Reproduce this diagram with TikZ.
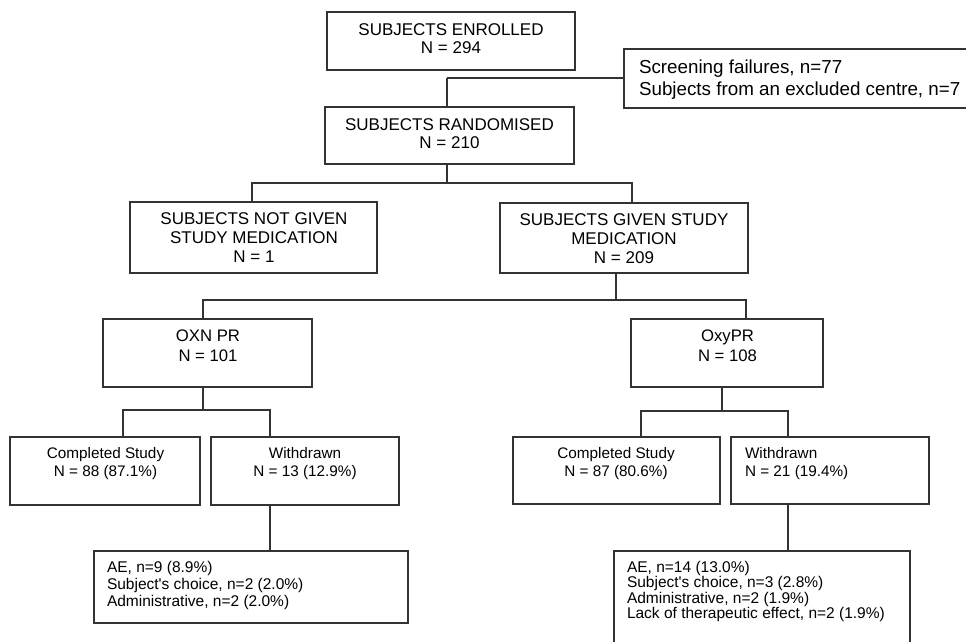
\documentclass[tikz,border=0pt]{standalone}
\usepackage{fontspec}
\setmainfont{Liberation Sans}
\begin{document}
\begin{tikzpicture}[x=1pt,y=-1pt,
  box/.style={draw=black!80, line width=1.2pt, rectangle, inner sep=0pt, outer sep=0pt, anchor=north west},
  link/.style={draw=black!80, line width=1.2pt},
  capt/.style={inner sep=0pt, outer sep=0pt, align=center, text=black, font=\fontsize{17}{18}\selectfont},
  midt/.style={inner sep=0pt, outer sep=0pt, align=center, text=black, font=\fontsize{16.7}{20}\selectfont},
  smallt/.style={inner sep=0pt, outer sep=0pt, align=center, text=black, font=\fontsize{15.3}{18}\selectfont},
  listt/.style={inner sep=0pt, outer sep=0pt, align=left, text=black, anchor=north west}]
\useasboundingbox (0,0) rectangle (966,641);
\fill[white] (0,0) rectangle (966,641);
\clip (0,0) rectangle (966,641);

% enrolment and screening
\node[box, minimum width=248pt, minimum height=58pt] (enr) at (327,12) {};
\node[capt, anchor=north] (enrT) at (451,24) {SUBJECTS ENROLLED\\N = 294};
\node[box, minimum width=356pt, minimum height=59pt] (scr) at (624,49) {};
\node[listt, font=\fontsize{18.8}{22}\selectfont] (scrT) at (639,59.5) {Screening failures, n=77\\Subjects from an excluded centre, n=7};

\node[box, minimum width=249pt, minimum height=57pt] (ran) at (325,107) {};
\node[capt, anchor=north] (ranT) at (449.5,119) {SUBJECTS RANDOMISED\\N = 210};

% medication split
\node[box, minimum width=247pt, minimum height=71pt] (notg) at (130,202) {};
\node[capt, anchor=north, font=\fontsize{17}{19}\selectfont] (notgT) at (254,213) {SUBJECTS NOT GIVEN\\STUDY MEDICATION\\N = 1};
\node[box, minimum width=248pt, minimum height=70pt] (giv) at (500,203) {};
\node[capt, anchor=north, font=\fontsize{17}{19}\selectfont] (givT) at (624,214) {SUBJECTS GIVEN STUDY\\MEDICATION\\N = 209};

% treatment arms
\node[box, minimum width=209pt, minimum height=68pt] (oxn) at (103,319) {};
\node[midt, anchor=north] (oxnT) at (208,330) {OXN PR\\N = 101};
\node[box, minimum width=192pt, minimum height=68pt] (oxy) at (631,319) {};
\node[midt, anchor=north] (oxyT) at (727.5,330) {OxyPR\\N = 108};

% outcomes, OXN PR arm
\node[box, minimum width=190pt, minimum height=68pt] (comL) at (10,437) {};
\node[smallt, anchor=north] (comLT) at (105.5,447) {Completed Study\\N = 88 (87.1\%)};
\node[box, minimum width=188pt, minimum height=68pt] (witL) at (211,437) {};
\node[smallt, anchor=north] (witLT) at (305,447) {Withdrawn\\N = 13 (12.9\%)};

% outcomes, OxyPR arm
\node[box, minimum width=207pt, minimum height=67pt] (comR) at (513,437) {};
\node[smallt, anchor=north] (comRT) at (616,447) {Completed Study\\N = 87 (80.6\%)};
\node[box, minimum width=198pt, minimum height=67pt] (witR) at (731,437) {};
\node[smallt, align=left, anchor=north west] (witRT) at (745,447) {Withdrawn\\N = 21 (19.4\%)};

% withdrawal reasons
\node[box, minimum width=314pt, minimum height=72pt] (aeL) at (94,551) {};
\node[listt, font=\fontsize{15.5}{17}\selectfont] (aeLT) at (107,561.5) {AE, n=9 (8.9\%)\\Subject\textquotesingle s choice, n=2 (2.0\%)\\Administrative, n=2 (2.0\%)};
\node[box, minimum width=296pt, minimum height=100pt] (aeR) at (614,551) {};
\node[listt, font=\fontsize{15.5}{15.2}\selectfont] (aeRT) at (627,561.5) {AE, n=14 (13.0\%)\\Subject\textquotesingle s choice, n=3 (2.8\%)\\Administrative, n=2 (1.9\%)\\Lack of therapeutic effect, n=2 (1.9\%)};

% connectors
\coordinate (jScr) at (447,78);
\draw[link] (jScr) -- (scr.west |- jScr);
\draw[link] (jScr) -- (jScr |- ran.north);

\coordinate (b1L) at (252,183);
\coordinate (b1M) at (447,183);
\coordinate (b1R) at (632,183);
\draw[link] (ran.south -| b1M) -- (b1M);
\draw[link] (notg.north -| b1L) -- (b1L) -- (b1R) -- (giv.north -| b1R);

\coordinate (b2L) at (203,300);
\coordinate (b2M) at (616,300);
\coordinate (b2R) at (746,300);
\draw[link] (giv.south -| b2M) -- (b2M);
\draw[link] (oxn.north -| b2L) -- (b2L) -- (b2R) -- (oxy.north -| b2R);

\coordinate (b3L) at (123,410);
\coordinate (b3M) at (203,410);
\coordinate (b3R) at (270,410);
\draw[link] (oxn.south -| b3M) -- (b3M);
\draw[link] (comL.north -| b3L) -- (b3L) -- (b3R) -- (witL.north -| b3R);
\draw[link] (witL.south -| b3R) -- (aeL.north -| b3R);

\coordinate (b4L) at (641,411);
\coordinate (b4M) at (722,411);
\coordinate (b4R) at (788,411);
\draw[link] (oxy.south -| b4M) -- (b4M);
\draw[link] (comR.north -| b4L) -- (b4L) -- (b4R) -- (witR.north -| b4R);
\draw[link] (witR.south -| b4R) -- (aeR.north -| b4R);
\end{tikzpicture}
\end{document}
